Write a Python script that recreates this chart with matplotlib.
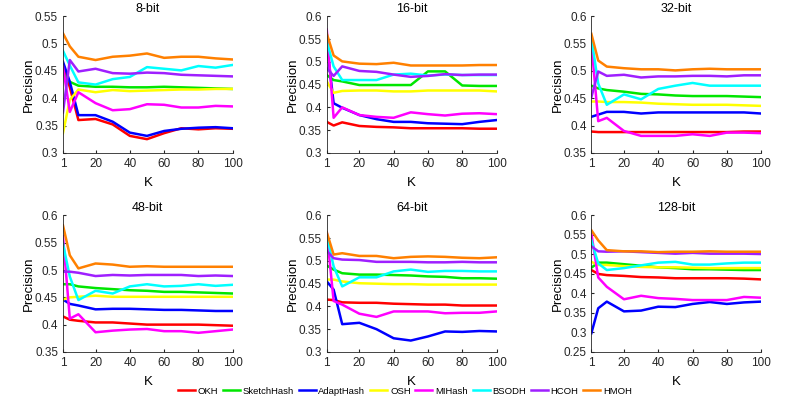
import matplotlib
matplotlib.use('Agg')
from matplotlib import pyplot as plt

plt.rcParams['font.family'] = ['Liberation Sans', 'DejaVu Sans']

K = [1, 5, 10, 20, 30, 40, 50, 60, 70, 80, 90, 100]
methods = ['OKH', 'SketchHash', 'AdaptHash', 'OSH', 'MIHash', 'BSODH', 'HCOH', 'HMOH']
colors = ['#ff0000', '#00e600', '#0000ff', '#ffff00', '#ff00ff', '#00ffff', '#9f1fff', '#ff8000']
titles = ['8-bit', '16-bit', '32-bit', '48-bit', '64-bit', '128-bit']

# precision per bit length, one list per method (same order as methods)
p8 = [
    [0.462, 0.420, 0.360, 0.362, 0.352, 0.331, 0.325, 0.336, 0.345, 0.343, 0.345, 0.344],
    [0.445, 0.430, 0.423, 0.421, 0.421, 0.420, 0.420, 0.421, 0.420, 0.419, 0.418, 0.417],
    [0.467, 0.430, 0.369, 0.369, 0.357, 0.337, 0.331, 0.340, 0.344, 0.346, 0.347, 0.345],
    [0.336, 0.397, 0.416, 0.411, 0.415, 0.413, 0.414, 0.415, 0.416, 0.416, 0.417, 0.417],
    [0.458, 0.375, 0.411, 0.391, 0.378, 0.380, 0.389, 0.388, 0.383, 0.383, 0.386, 0.385],
    [0.487, 0.460, 0.429, 0.425, 0.435, 0.439, 0.457, 0.454, 0.451, 0.459, 0.456, 0.461],
    [0.374, 0.470, 0.449, 0.454, 0.446, 0.445, 0.447, 0.446, 0.443, 0.442, 0.441, 0.440],
    [0.519, 0.495, 0.476, 0.470, 0.476, 0.478, 0.482, 0.474, 0.476, 0.476, 0.473, 0.471],
]
p16 = [
    [0.368, 0.360, 0.367, 0.359, 0.357, 0.356, 0.354, 0.354, 0.354, 0.354, 0.353, 0.353],
    [0.471, 0.460, 0.457, 0.449, 0.449, 0.449, 0.449, 0.479, 0.479, 0.448, 0.447, 0.447],
    [0.541, 0.409, 0.399, 0.383, 0.374, 0.368, 0.368, 0.365, 0.364, 0.363, 0.368, 0.372],
    [0.457, 0.432, 0.436, 0.437, 0.437, 0.435, 0.435, 0.437, 0.437, 0.437, 0.437, 0.435],
    [0.571, 0.377, 0.400, 0.383, 0.379, 0.377, 0.389, 0.385, 0.382, 0.386, 0.387, 0.385],
    [0.545, 0.490, 0.460, 0.460, 0.460, 0.472, 0.474, 0.470, 0.472, 0.471, 0.471, 0.471],
    [0.486, 0.469, 0.490, 0.480, 0.478, 0.472, 0.467, 0.469, 0.473, 0.471, 0.472, 0.472],
    [0.562, 0.514, 0.501, 0.496, 0.495, 0.498, 0.492, 0.492, 0.492, 0.492, 0.493, 0.493],
]
p32 = [
    [0.389, 0.388, 0.388, 0.388, 0.388, 0.388, 0.388, 0.388, 0.388, 0.388, 0.389, 0.389],
    [0.473, 0.468, 0.465, 0.462, 0.458, 0.457, 0.455, 0.454, 0.454, 0.454, 0.453, 0.452],
    [0.416, 0.420, 0.425, 0.425, 0.422, 0.424, 0.424, 0.424, 0.424, 0.424, 0.424, 0.422],
    [0.444, 0.444, 0.443, 0.443, 0.442, 0.440, 0.439, 0.438, 0.438, 0.438, 0.437, 0.436],
    [0.551, 0.408, 0.414, 0.390, 0.381, 0.381, 0.381, 0.384, 0.381, 0.387, 0.387, 0.386],
    [0.560, 0.477, 0.438, 0.457, 0.448, 0.467, 0.473, 0.478, 0.473, 0.473, 0.473, 0.473],
    [0.452, 0.499, 0.491, 0.493, 0.488, 0.490, 0.490, 0.491, 0.491, 0.490, 0.492, 0.492],
    [0.568, 0.519, 0.508, 0.505, 0.503, 0.503, 0.501, 0.503, 0.504, 0.503, 0.503, 0.503],
]
p48 = [
    [0.415, 0.409, 0.407, 0.404, 0.404, 0.402, 0.400, 0.400, 0.400, 0.400, 0.399, 0.398],
    [0.474, 0.474, 0.470, 0.467, 0.465, 0.463, 0.462, 0.460, 0.460, 0.459, 0.458, 0.457],
    [0.446, 0.438, 0.435, 0.428, 0.429, 0.429, 0.428, 0.427, 0.427, 0.426, 0.425, 0.425],
    [0.446, 0.450, 0.451, 0.453, 0.451, 0.451, 0.451, 0.451, 0.451, 0.451, 0.451, 0.451],
    [0.562, 0.411, 0.419, 0.386, 0.389, 0.391, 0.392, 0.388, 0.388, 0.385, 0.388, 0.391],
    [0.548, 0.488, 0.445, 0.462, 0.457, 0.470, 0.474, 0.470, 0.471, 0.474, 0.471, 0.473],
    [0.497, 0.497, 0.495, 0.489, 0.491, 0.490, 0.491, 0.491, 0.491, 0.489, 0.490, 0.489],
    [0.582, 0.527, 0.503, 0.512, 0.510, 0.506, 0.507, 0.506, 0.506, 0.506, 0.506, 0.506],
]
p64 = [
    [0.415, 0.414, 0.409, 0.408, 0.408, 0.406, 0.405, 0.404, 0.404, 0.402, 0.402, 0.402],
    [0.490, 0.481, 0.473, 0.470, 0.470, 0.469, 0.468, 0.466, 0.465, 0.462, 0.462, 0.461],
    [0.455, 0.437, 0.361, 0.364, 0.350, 0.330, 0.325, 0.334, 0.345, 0.344, 0.346, 0.345],
    [0.459, 0.459, 0.455, 0.451, 0.450, 0.449, 0.449, 0.448, 0.448, 0.448, 0.448, 0.448],
    [0.563, 0.412, 0.404, 0.384, 0.377, 0.389, 0.389, 0.389, 0.385, 0.386, 0.386, 0.389],
    [0.556, 0.488, 0.444, 0.464, 0.464, 0.477, 0.481, 0.476, 0.478, 0.478, 0.477, 0.477],
    [0.522, 0.506, 0.503, 0.502, 0.498, 0.498, 0.498, 0.497, 0.497, 0.498, 0.497, 0.497],
    [0.563, 0.514, 0.517, 0.511, 0.511, 0.506, 0.509, 0.510, 0.509, 0.507, 0.506, 0.508],
]
p128 = [
    [0.460, 0.450, 0.447, 0.445, 0.442, 0.441, 0.439, 0.439, 0.439, 0.439, 0.438, 0.436],
    [0.466, 0.479, 0.479, 0.475, 0.471, 0.467, 0.465, 0.462, 0.462, 0.461, 0.460, 0.460],
    [0.298, 0.362, 0.379, 0.354, 0.356, 0.366, 0.365, 0.373, 0.378, 0.373, 0.377, 0.379],
    [0.481, 0.473, 0.473, 0.470, 0.468, 0.467, 0.467, 0.466, 0.465, 0.465, 0.465, 0.465],
    [0.553, 0.441, 0.417, 0.385, 0.394, 0.388, 0.386, 0.383, 0.383, 0.383, 0.391, 0.389],
    [0.536, 0.477, 0.460, 0.465, 0.472, 0.479, 0.481, 0.474, 0.474, 0.477, 0.479, 0.479],
    [0.521, 0.508, 0.507, 0.508, 0.506, 0.504, 0.502, 0.504, 0.502, 0.502, 0.502, 0.501],
    [0.562, 0.536, 0.511, 0.508, 0.508, 0.506, 0.507, 0.507, 0.508, 0.507, 0.507, 0.507],
]
all_data = [p8, p16, p32, p48, p64, p128]
ylims = [(0.3, 0.55), (0.3, 0.6), (0.35, 0.6), (0.35, 0.6), (0.3, 0.6), (0.25, 0.6)]

fig = plt.figure(figsize=(7.97, 3.99), dpi=100)
lefts = [0.079, 0.410, 0.742]
bottoms = [0.617, 0.118]

for i in range(6):
    ax = fig.add_axes([lefts[i % 3], bottoms[i // 3], 0.213, 0.342])
    for j in range(len(methods)):
        ax.plot(K, all_data[i][j], color=colors[j], lw=1.8, label=methods[j])
    ax.set_xlim(1, 100)
    ax.set_ylim(ylims[i])
    ax.set_xticks([1, 20, 40, 60, 80, 100])
    lo = int(round(ylims[i][0] / 0.05))
    hi = int(round(ylims[i][1] / 0.05))
    yt = [round(v * 0.05, 2) for v in range(lo, hi + 1)]
    ax.set_yticks(yt)
    ax.set_yticklabels(['%g' % t for t in yt])
    ax.set_title(titles[i], fontsize=9, pad=3)
    ax.set_xlabel('K', fontsize=9.5, labelpad=5)
    ax.set_ylabel('Precision', fontsize=9.5, labelpad=0)
    ax.tick_params(direction='in', length=2.5, labelsize=8.5, color='#262626', labelcolor='#262626')
    ax.spines['top'].set_visible(False)
    ax.spines['right'].set_visible(False)
    for s in ['left', 'bottom']:
        ax.spines[s].set_color('#262626')
        ax.spines[s].set_linewidth(0.6)

handles, labels = ax.get_legend_handles_labels()
fig.legend(handles, labels, loc='center', bbox_to_anchor=(0.508, 0.02), ncol=8, frameon=False,
           fontsize=6.8, handlelength=1.8, handletextpad=0.3, columnspacing=0.5,
           borderpad=0.1)

plt.savefig('out.png', dpi=100)
